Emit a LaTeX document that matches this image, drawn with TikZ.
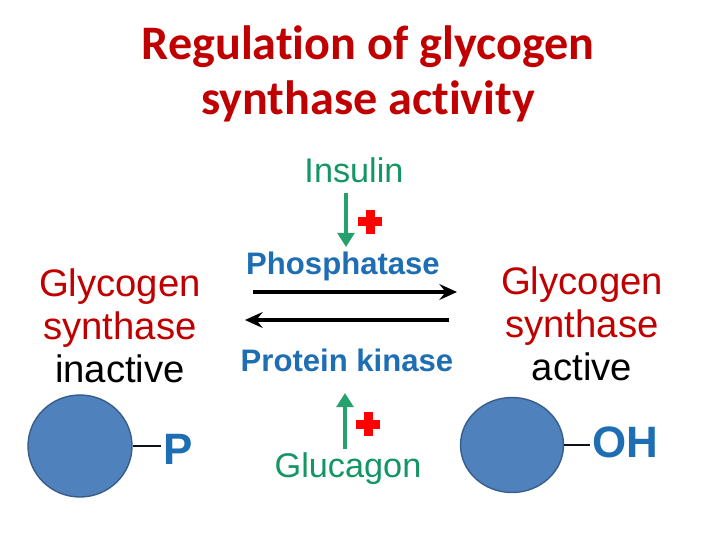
\documentclass[tikz,border=0pt]{standalone}
\usepackage{fontspec}
\setmainfont{Liberation Sans}
\newfontfamily\titlefont[Ligatures=NoCommon]{Carlito}
\usepackage{tikz}
\usetikzlibrary{positioning}
\usetikzlibrary{arrows.meta}
\usetikzlibrary{shapes.geometric}
\usetikzlibrary{calc}
\usepackage{xcolor}

\definecolor{titlered}{RGB}{192,0,0}
\definecolor{hormgreen}{RGB}{20,150,100}
\definecolor{arrowgreen}{RGB}{40,160,110}
\definecolor{enzblue}{RGB}{30,110,180}
\definecolor{protfill}{RGB}{79,129,189}
\definecolor{protline}{RGB}{56,93,138}

\tikzset{
  hormone/.style={text=hormgreen, font=\fontsize{19.5}{23}\selectfont},
  enzyme/.style={text=enzblue, font=\fontsize{17.7}{21}\selectfont\bfseries},
  state/.style={align=center, font=\fontsize{21.8}{24.4}\selectfont},
  group/.style={text=enzblue, inner sep=1pt, font=\fontsize{25}{30}\selectfont\bfseries},
  protein/.style={draw=protline, fill=protfill, line width=0.8pt, ellipse, inner sep=0pt},
  signal/.style={arrowgreen, line width=2.8pt, -{Triangle[length=8pt,width=9.5pt]}},
  react/.style={black, line width=2.2pt, -{Stealth[length=10pt,width=9pt,inset=3.5pt]}},
  bond/.style={black!80!protline, line width=1.6pt}
}

% red plus sign
\newcommand{\redplus}[1]{%
  \fill[red] ($(#1)+(-4.5,-12)$) rectangle ($(#1)+(4.5,12)$);
  \fill[red] ($(#1)+(-12,-4.5)$) rectangle ($(#1)+(12,4.5)$);
}

\begin{document}
\begin{tikzpicture}[x=0.02cm, y=-0.02cm]
    \useasboundingbox (0,0) rectangle (720,540);

    % title
    \node[text=titlered, align=center, font=\titlefont\fontsize{27.4}{31.5}\selectfont\bfseries]
        (title) at (368,74) {Regulation of glycogen\\synthase activity};

    % hormones and enzymes
    \node[hormone] (insulin) at (354,170) {Insulin};
    \node[enzyme] (phos) at (343,266) {Phosphatase};
    \node[enzyme] (kinase) at (347,360) {Protein kinase};
    \node[hormone] (glucagon) at (348,469) {Glucagon};

    \coordinate (ins-s) at (346,193);
    \coordinate (ins-e) at (346,247);
    \coordinate (glu-s) at (345,449);
    \coordinate (glu-e) at (345,393);
    \draw[signal] (ins-s) -- (ins-e);
    \draw[signal] (glu-s) -- (glu-e);
    \redplus{370,222}
    \redplus{368,424}

    % reactions
    \coordinate (fwd-s) at (253,292);
    \coordinate (fwd-e) at (457,292);
    \coordinate (bwd-s) at (449,320);
    \coordinate (bwd-e) at (245,320);
    \draw[react] (fwd-s) -- (fwd-e);
    \draw[react] (bwd-s) -- (bwd-e);

    % glycogen synthase states
    \node[state] (inactive) at (120,326)
        {\textcolor{titlered}{Glycogen}\\\textcolor{titlered}{synthase}\\inactive};
    \node[state] (active) at (582,324)
        {\textcolor{titlered}{Glycogen}\\\textcolor{titlered}{synthase}\\active};

    \node[protein, minimum width=2.08cm, minimum height=2.04cm] (gsin) at (80,446) {};
    \node[protein, minimum width=2.06cm, minimum height=1.9cm] (gsact) at (512,445) {};
    \node[group] (pgroup) at (178,449) {P};
    \node[group] (ohgroup) at (625,442) {OH};
    \draw[bond] (gsin.east) -- (pgroup.west |- gsin.east);
    \draw[bond] (gsact.east) -- (ohgroup.west |- gsact.east);
\end{tikzpicture}
\end{document}
